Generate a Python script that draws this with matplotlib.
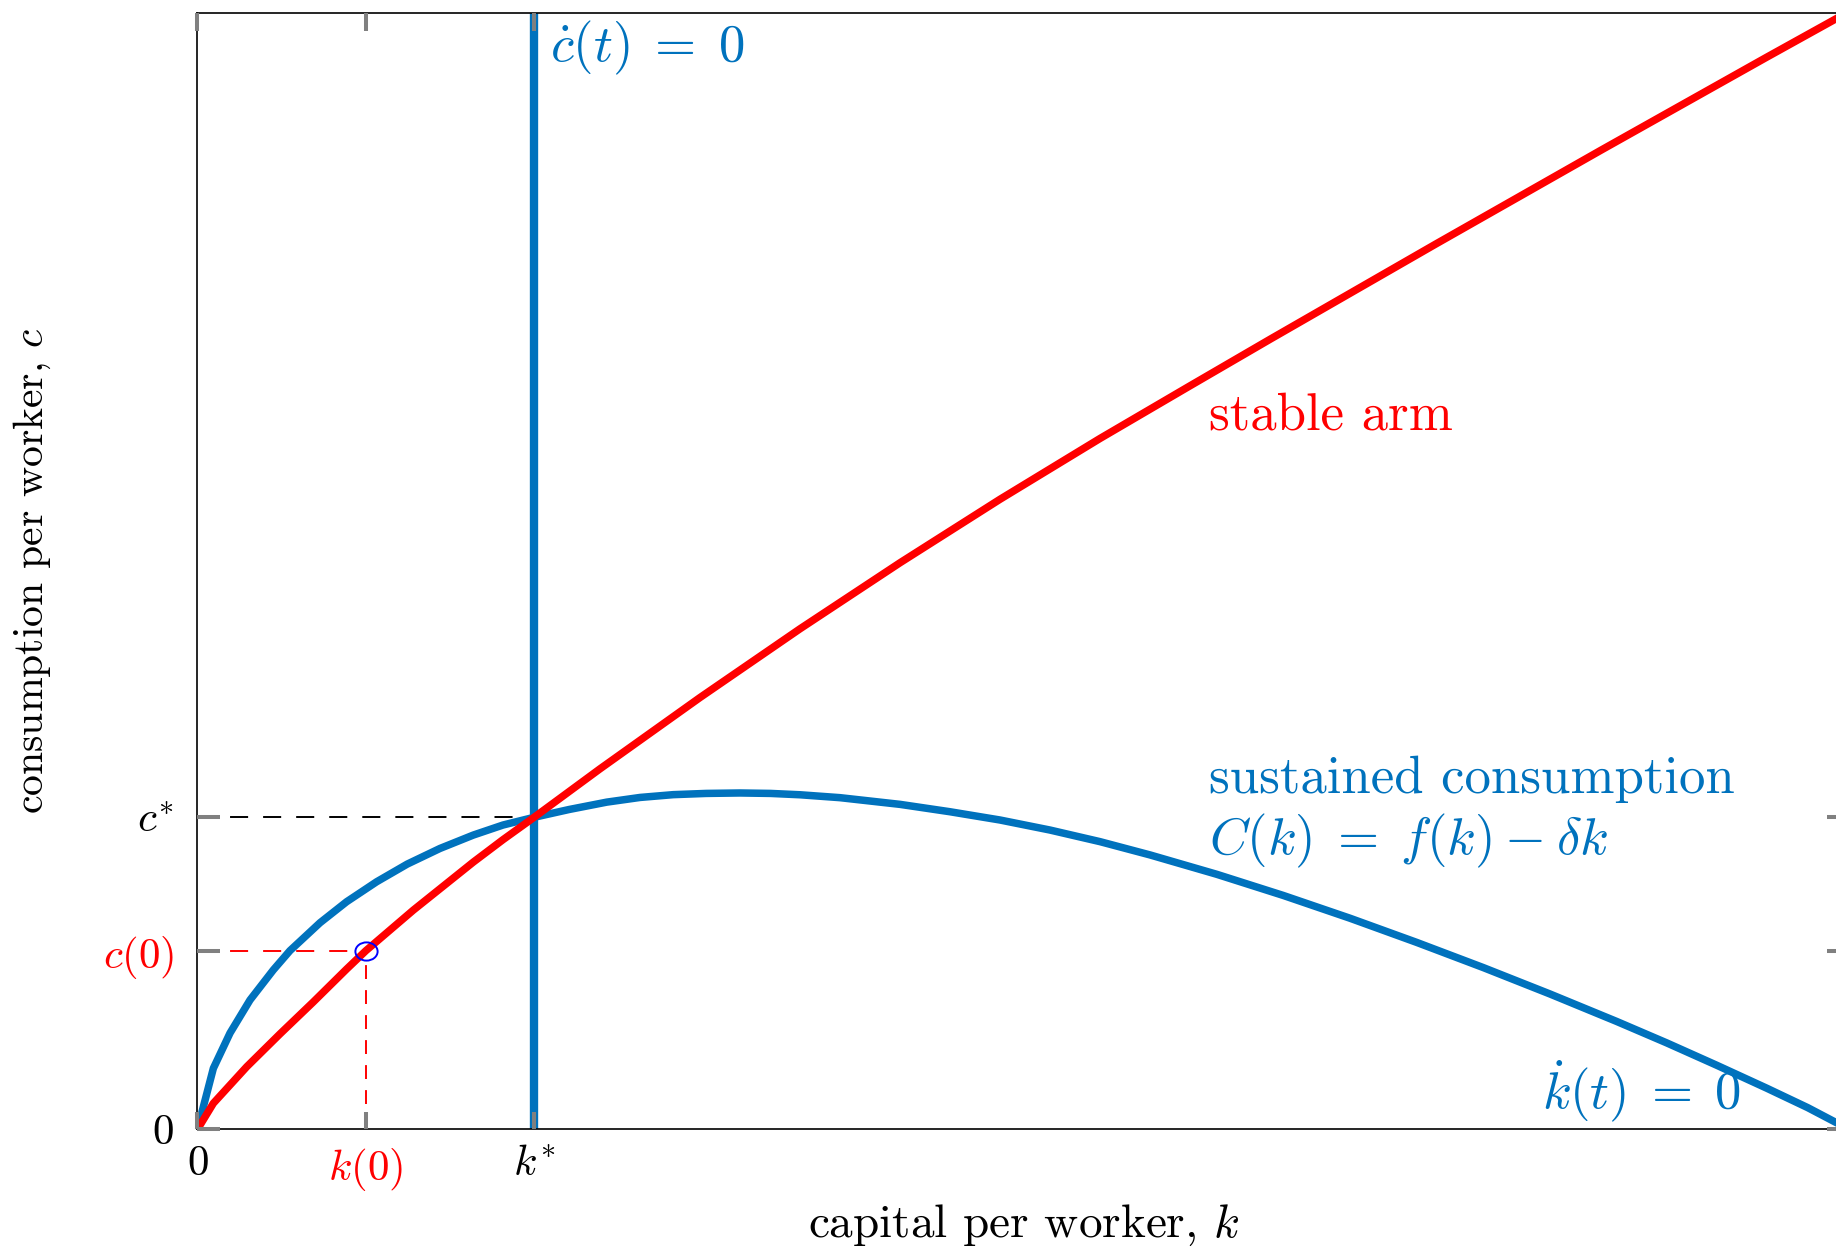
import matplotlib
matplotlib.use('Agg')
import matplotlib.pyplot as plt
from matplotlib.path import Path

plt.rcParams['font.family'] = 'serif'
plt.rcParams['font.serif'] = ['cmr10']
plt.rcParams['mathtext.fontset'] = 'cm'
plt.rcParams['axes.unicode_minus'] = False
plt.rcParams['lines.scale_dashes'] = False

# values (arbitrary units, k and c both 0..100)
k_sustained = [0, 0.96, 1.97, 3.18, 4.59, 5.60, 7.42, 9.03, 10.85, 12.7, 14.68, 16.70,
               18.5, 20.38, 22.5, 24.78, 26.8, 28.81, 30.8, 32.85, 34.7, 36.48, 38.90,
               42.54, 45.56, 48.59, 51.62, 54.65, 57.68, 61.71, 65.75, 69.79, 73.82,
               77.86, 81.89, 85.93, 88.96, 92.0, 95.02, 97.5, 100]
c_sustained = [0, 5.46, 8.62, 11.58, 14.27, 16.0, 18.5, 20.38, 22.17, 23.75, 25.15, 26.35,
               27.25, 27.94, 28.64, 29.3, 29.72, 29.97, 30.08, 30.12, 30.08, 29.96, 29.7,
               29.1, 28.44, 27.70, 26.80, 25.76, 24.57, 22.84, 20.94, 18.9, 16.74,
               14.48, 12.12, 9.66, 7.74, 5.73, 3.68, 1.94, 0]

k_arm = [0, 0.96, 2.98, 5.00, 7.01, 9.03, 10.20, 13.07, 16.70, 18.5, 20.38, 24.37,
         30.43, 36.48, 42.54, 48.59, 54.65, 60.0, 65.0, 70.0, 75.0, 80.0, 85.0, 90.0,
         95.0, 100]
c_arm = [0, 2.33, 5.6, 8.55, 11.4, 14.35, 16.0, 19.63, 23.93, 25.94, 27.94, 32.28,
         38.67, 44.82, 50.74, 56.42, 61.87, 66.5, 70.8, 75.05, 79.3, 83.5, 87.7, 91.85,
         96.0, 100.1]

k_star = 20.38
c_star = 27.94
k_zero = 10.20
c_zero = 16.0

xtick_pos = [0, k_zero, k_star]
xtick_labels = ['$0$', '$k(0)$', '$k^{*}$']
ytick_pos = [0, c_zero, c_star]
ytick_labels = ['$0$', '$c(0)$', '$c^{*}$']

blue = '#0072BD'
red = '#FF0000'
gray = '#808080'

fig = plt.figure(figsize=(18.36, 12.47), dpi=100)
ax = fig.add_axes([0.10757, 0.09439, 0.89951, 0.89543])

# guide lines
ax.plot([0, k_star], [c_star, c_star], color='black', lw=1.4, dashes=(13, 10.8), zorder=1.5)
ax.plot([0, k_zero], [c_zero, c_zero], color=red, lw=1.4, dashes=(13, 10.8), zorder=1.5)
ax.plot([k_zero, k_zero], [0, c_zero], color=red, lw=1.4, dashes=(10, 8), zorder=1.5)

# sustained consumption and c-dot = 0 locus
ax.plot(k_sustained, c_sustained, color=blue, lw=5.4, zorder=2)
ax.axvline(k_star, color=blue, lw=6.0, zorder=2.1)

# stable arm
ax.plot(k_arm, c_arm, color=red, lw=5.4, zorder=2.2)

# starting point (slightly wide ellipse as in the picture)
circ = Path.unit_circle()
ell = Path(circ.vertices * [1.22, 1.0], circ.codes)
ax.plot([k_zero], [c_zero], marker=ell, ms=16, mfc='none', mec='#0000FF', mew=1.4,
        linestyle='none', zorder=2.3)

ax.set_xlim(0, 100)
ax.set_ylim(0, 100)
ax.set_axisbelow(False)

ax.set_xticks(xtick_pos)
ax.set_xticklabels(xtick_labels)
ax.set_yticks(ytick_pos)
ax.set_yticklabels(ytick_labels)
ax.get_xticklabels()[1].set_color(red)
ax.get_yticklabels()[1].set_color(red)

ax.tick_params(axis='x', direction='in', length=12.6, width=2.9, color=gray,
               top=True, pad=12, labelsize=31)
ax.tick_params(axis='y', direction='in', length=16.2, width=2.9, color=gray,
               right=True, pad=17, labelsize=31)
for sp in ax.spines.values():
    sp.set_linewidth(1.2)
    sp.set_color('black')

ax.set_xlabel('capital per worker, $k$', fontsize=34)
ax.xaxis.label.set_va('baseline')
ax.xaxis.set_label_coords(0.5, -0.096)
ax.set_ylabel('consumption per worker, $c$', fontsize=30)
ax.yaxis.set_label_coords(-0.0875, 0.5)

eq = r'\;=\;'
ax.text(61.25, 62.69, 'stable arm', color=red, fontsize=38, ha='left', va='baseline')
ax.text(61.25, 30.12, 'sustained consumption', color=blue, fontsize=38,
        ha='left', va='baseline')
ax.text(61.25, 24.57, r'$C(k)' + eq + r'f(k)\:-\:\delta k$', color=blue, fontsize=38,
        ha='left', va='baseline')
ax.text(21.34, 95.67, r'$\dot{c}(t)' + eq + '0$', color=blue, fontsize=38,
        ha='left', va='baseline')
ax.text(81.39, 1.91, r'$\dot{k}(t)' + eq + '0$', color=blue, fontsize=38,
        ha='left', va='baseline')

fig.savefig('out.png', dpi=100)
